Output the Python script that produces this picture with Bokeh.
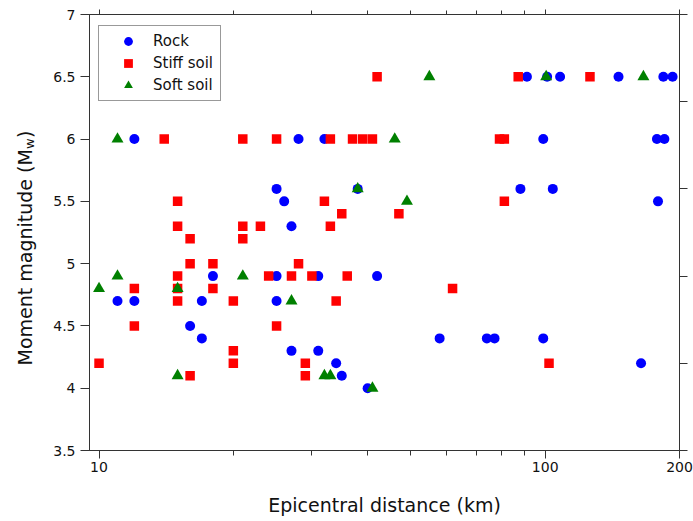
import math
from bokeh.plotting import figure
from bokeh.layouts import row
from bokeh.models import Range1d, FixedTicker, LogAxis, LinearAxis, Label
from bokeh.embed import file_html
from bokeh.resources import INLINE

# ---- data (epicentral distance km, moment magnitude Mw) ----
rock_x = [91, 101, 108, 146, 184, 193,
          12, 28, 32, 99, 178, 185,
          25, 38, 88, 104,
          26, 179,
          27,
          18, 25, 31, 42,
          11, 12, 17, 25,
          16,
          17, 58, 74, 77, 99,
          27, 31,
          34, 164,
          35,
          40]
rock_y = [6.5, 6.5, 6.5, 6.5, 6.5, 6.5,
          6.0, 6.0, 6.0, 6.0, 6.0, 6.0,
          5.6, 5.6, 5.6, 5.6,
          5.5, 5.5,
          5.3,
          4.9, 4.9, 4.9, 4.9,
          4.7, 4.7, 4.7, 4.7,
          4.5,
          4.4, 4.4, 4.4, 4.4, 4.4,
          4.3, 4.3,
          4.2, 4.2,
          4.1,
          4.0]

stiff_x = [42, 87, 126,
           14, 21, 25, 33, 37, 39, 41, 79, 81,
           15, 32, 81,
           35, 47,
           15, 21, 23, 33,
           16, 21,
           16, 18, 28,
           15, 24, 27, 30, 36,
           12, 15, 18, 62,
           15, 20, 34,
           12, 25,
           20,
           10, 20, 29, 102,
           16, 29]
stiff_y = [6.5, 6.5, 6.5,
           6.0, 6.0, 6.0, 6.0, 6.0, 6.0, 6.0, 6.0, 6.0,
           5.5, 5.5, 5.5,
           5.4, 5.4,
           5.3, 5.3, 5.3, 5.3,
           5.2, 5.2,
           5.0, 5.0, 5.0,
           4.9, 4.9, 4.9, 4.9, 4.9,
           4.8, 4.8, 4.8, 4.8,
           4.7, 4.7, 4.7,
           4.5, 4.5,
           4.3,
           4.2, 4.2, 4.2, 4.2,
           4.1, 4.1]

soft_x = [55, 100.5, 166,
          11, 46,
          38,
          49,
          11, 21,
          10, 15,
          27,
          15, 32, 33,
          41]
soft_y = [6.5, 6.5, 6.5,
          6.0, 6.0,
          5.6,
          5.5,
          4.9, 4.9,
          4.8, 4.8,
          4.7,
          4.1, 4.1, 4.1,
          4.0]

x_major = [10, 100, 200]
x_minor = [20, 30, 40, 50, 60, 70, 80, 90]
y_ticks = [3.5, 4.0, 4.5, 5.0, 5.5, 6.0, 6.5, 7.0]
y_right_ticks = [3.5, 4.2, 4.9, 5.6, 6.3, 7.0]

FONT = "DejaVu Sans"
AX = "#333333"
TXT = "#111111"

# ---------------- main plot ----------------
p = figure(width=643, height=521, x_axis_type="log",
           x_range=Range1d(9.52, 200), y_range=Range1d(3.5, 7),
           output_backend="svg", toolbar_location=None,
           min_border_left=37, min_border_right=14,
           min_border_top=14, min_border_bottom=71)
p.grid.visible = False
p.outline_line_color = AX
p.background_fill_color = "white"
p.border_fill_color = "white"

xa = p.xaxis[0]
xa.ticker = FixedTicker(ticks=x_major, minor_ticks=x_minor)
xa.major_label_overrides = {v: str(v) for v in x_major}
xa.axis_label = "Epicentral distance (km)"
xa.axis_label_text_font = FONT
xa.axis_label_text_font_size = "19px"
xa.axis_label_text_font_style = "normal"
xa.axis_label_text_color = TXT
xa.axis_label_standoff = 19
xa.major_label_text_font = FONT
xa.major_label_text_font_size = "14px"
xa.major_label_text_color = TXT
xa.major_label_standoff = 3
xa.major_tick_in = 0
xa.major_tick_out = 8
xa.minor_tick_in = 0
xa.minor_tick_out = 5
xa.axis_line_color = AX
xa.major_tick_line_color = AX
xa.minor_tick_line_color = AX

ya = p.yaxis[0]
ya.ticker = FixedTicker(ticks=y_ticks)
ya.major_label_overrides = {v: ("%g" % v) for v in y_ticks}
ya.major_label_text_font = FONT
ya.major_label_text_font_size = "14px"
ya.major_label_text_color = TXT
ya.major_label_standoff = 5
ya.major_tick_in = 0
ya.major_tick_out = 9
ya.minor_tick_line_color = None
ya.axis_line_color = AX
ya.major_tick_line_color = AX

top = LogAxis(ticker=FixedTicker(ticks=x_major, minor_ticks=x_minor),
              major_label_text_font_size="0px", major_label_standoff=0,
              major_tick_in=0, major_tick_out=5, minor_tick_in=0, minor_tick_out=4,
              axis_line_color=AX, major_tick_line_color=AX, minor_tick_line_color=AX)
top.major_label_overrides = {v: "" for v in x_major}
p.add_layout(top, "above")

right = LinearAxis(ticker=FixedTicker(ticks=y_right_ticks),
                   major_label_text_font_size="0px", major_label_standoff=0,
                   major_tick_in=0, major_tick_out=8, minor_tick_line_color=None,
                   axis_line_color=AX, major_tick_line_color=AX)
right.major_label_overrides = {v: "" for v in y_right_ticks}
p.add_layout(right, "right")

p.scatter(rock_x, rock_y, marker="circle", size=10, fill_color="#0000FF",
          line_color=None, legend_label="Rock")
p.scatter(stiff_x, stiff_y, marker="square", size=9.5, fill_color="#FF0000",
          line_color=None, legend_label="Stiff soil")
p.scatter(soft_x, soft_y, marker="triangle", size=12, fill_color="#008000",
          line_color=None, legend_label="Soft soil")

lg = p.legend[0]
lg.location = (9, 349)
lg.padding = 4
lg.spacing = 0
lg.glyph_width = 50
lg.glyph_height = 22
lg.label_height = 17
lg.label_width = 63
lg.label_standoff = 0
lg.label_text_font = FONT
lg.label_text_font_size = "15px"
lg.label_text_color = TXT
lg.border_line_color = AX
lg.border_line_width = 1
lg.background_fill_color = "white"
lg.background_fill_alpha = 1.0
lg.margin = 0

# ---------------- y-axis title panel ----------------
# frame of this panel is aligned with the main frame (canvas y 14..450),
# so a flipped range makes data y equal to canvas y
lp = figure(width=50, height=521, x_range=Range1d(0, 50), y_range=Range1d(450, 14),
            output_backend="svg", toolbar_location=None,
            x_axis_location=None, y_axis_location=None,
            min_border=0, min_border_left=0, min_border_right=0,
            min_border_top=14, min_border_bottom=71)
lp.grid.visible = False
lp.outline_line_color = None
lp.background_fill_color = "white"
lp.border_fill_color = "white"

ys = 365
w1 = 216.4
lab1 = Label(x=24, y=ys, text="Moment magnitude (M", angle=math.pi / 2,
             text_align="left", text_baseline="middle",
             text_font=FONT, text_font_size="19px", text_color=TXT)
lab2 = Label(x=29, y=ys - w1, text="w", angle=math.pi / 2,
             text_align="left", text_baseline="middle",
             text_font=FONT, text_font_size="13px", text_color=TXT)
lab3 = Label(x=24, y=ys - w1 - 11, text=")", angle=math.pi / 2,
             text_align="left", text_baseline="middle",
             text_font=FONT, text_font_size="19px", text_color=TXT)
for lb in (lab1, lab2, lab3):
    lp.add_layout(lb)

layout = row(lp, p, spacing=0)
open("out.html", "w").write(file_html(layout, INLINE))
